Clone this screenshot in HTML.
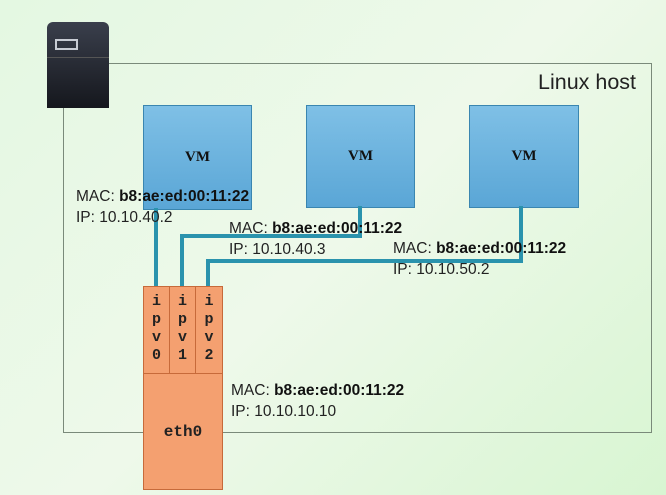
<!DOCTYPE html>
<html><head><style>
body{margin:0;width:666px;height:495px;overflow:hidden;background:linear-gradient(135deg,#e4f8e2,#eef9ea 50%,#d8f5d2);font-family:"Liberation Sans",sans-serif;position:relative}
.a{position:absolute}
.vm{position:absolute;background:linear-gradient(#7fc0e6,#5aa6d6);border:1px solid #3a86b0;font-family:"Liberation Serif",serif;font-weight:bold;font-size:15px;color:#111;display:flex;align-items:center;justify-content:center}
.t{position:absolute;font-size:15.5px;color:#222;line-height:21px}
.t b{color:#111}
.c{position:absolute;background:#f4a070;border:1px solid #c76a3a;box-sizing:border-box;font-family:"Liberation Mono",monospace;font-weight:bold;color:#222;font-size:15px;text-align:center}
.ln{position:absolute;background:#2a93ad}
</style></head><body>
<div class="a" style="left:63px;top:63px;width:587px;height:368px;border:1.5px solid #7a8a7a"></div>
<div class="t" style="left:538px;top:70px;font-size:21.5px;line-height:25px">Linux host</div>
<div class="a" style="left:47px;top:22px;width:62px;height:86px;background:linear-gradient(#3a3f4c,#15171d);border-radius:6px 6px 0 0"></div>
<div class="a" style="left:55px;top:39px;width:23px;height:11px;border:2px solid #c8ccd4;box-sizing:border-box"></div>
<div class="a" style="left:47px;top:57px;width:62px;height:1px;background:#555"></div>
<div class="vm" style="left:143px;top:105px;width:107px;height:103px">VM</div>
<div class="vm" style="left:306px;top:105px;width:107px;height:101px">VM</div>
<div class="vm" style="left:469px;top:105px;width:108px;height:101px">VM</div>
<div class="ln" style="left:154px;top:208px;width:4px;height:78px"></div>
<div class="ln" style="left:180px;top:234px;width:4px;height:52px"></div>
<div class="ln" style="left:180px;top:234px;width:182px;height:4px"></div>
<div class="ln" style="left:358px;top:206px;width:4px;height:32px"></div>
<div class="ln" style="left:206px;top:259px;width:4px;height:27px"></div>
<div class="ln" style="left:206px;top:259px;width:317px;height:4px"></div>
<div class="ln" style="left:519px;top:206px;width:4px;height:57px"></div>
<div class="t" style="left:76px;top:186px">MAC: <b>b8:ae:ed:00:11:22</b><br>IP: 10.10.40.2</div>
<div class="t" style="left:229px;top:218px">MAC: <b>b8:ae:ed:00:11:22</b><br>IP: 10.10.40.3</div>
<div class="t" style="left:393px;top:238px">MAC: <b>b8:ae:ed:00:11:22</b><br>IP: 10.10.50.2</div>
<div class="t" style="left:231px;top:380px">MAC: <b>b8:ae:ed:00:11:22</b><br>IP: 10.10.10.10</div>
<div class="c" style="left:143px;top:286px;width:27px;height:88px;padding-top:6px;line-height:18px">i<br>p<br>v<br>0</div>
<div class="c" style="left:169px;top:286px;width:27px;height:88px;padding-top:6px;line-height:18px">i<br>p<br>v<br>1</div>
<div class="c" style="left:195px;top:286px;width:28px;height:88px;padding-top:6px;line-height:18px">i<br>p<br>v<br>2</div>
<div class="c" style="left:143px;top:373px;width:80px;height:117px;line-height:117px;font-size:16px">eth0</div>
</body></html>
